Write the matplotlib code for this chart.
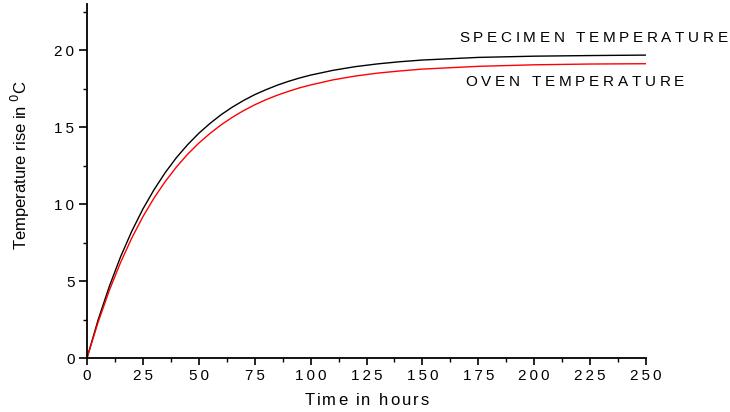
import matplotlib
matplotlib.use('Agg')
import matplotlib.pyplot as plt
from matplotlib.ticker import MultipleLocator
import matplotlib.transforms as mtransforms

# time (hours) and temperature rise
hours = [0, 5, 10, 15, 20, 25, 30, 35, 40, 45, 50, 55, 60, 65, 70, 75, 80, 85,
         90, 95, 100, 110, 120, 130, 140, 150, 175, 200, 225, 250]
specimen = [0, 2.49, 4.66, 6.57, 8.23, 9.68, 10.94, 12.05, 13.02, 13.86, 14.6,
            15.24, 15.81, 16.3, 16.73, 17.11, 17.43, 17.72, 17.97, 18.19, 18.38,
            18.69, 18.93, 19.11, 19.25, 19.36, 19.53, 19.61, 19.65, 19.68]
oven = [0, 2.34, 4.4, 6.2, 7.79, 9.18, 10.4, 11.47, 12.41, 13.24, 13.96,
        14.59, 15.15, 15.64, 16.07, 16.45, 16.78, 17.07, 17.32, 17.55, 17.74,
        18.07, 18.32, 18.51, 18.65, 18.77, 18.95, 19.05, 19.1, 19.12]

x_ticks = [0, 25, 50, 75, 100, 125, 150, 175, 200, 225, 250]
y_ticks = [0, 5, 10, 15, 20]

FONT = ['Liberation Sans', 'DejaVu Sans']


def spaced_text(ax, x, y, s, size, spacing, transform=None, ha='left'):
    # draw text letter by letter with extra tracking (in pixels)
    fig = ax.figure
    renderer = fig.canvas.get_renderer()
    base = ax.transData if transform is None else transform
    widths = []
    for ch in s:
        if ch == ' ':
            widths.append(size * fig.dpi / 72 * 0.28)
        else:
            t = fig.text(0, 0, ch, fontsize=size, family=FONT)
            widths.append(t.get_window_extent(renderer).width)
            t.remove()
    total = sum(widths) + spacing * (len(s) - 1)
    off = -total / 2 if ha == 'center' else 0
    for ch, w in zip(s, widths):
        tr = mtransforms.offset_copy(base, fig=fig, x=off * 72 / fig.dpi, y=0, units='points')
        ax.text(x, y, ch, fontsize=size, family=FONT, va='center', ha='left',
                transform=tr, clip_on=False)
        off += w + spacing


fig = plt.figure(figsize=(7.3, 4.12), dpi=100)
ax = fig.add_axes([87 / 730, 54 / 412, (646 - 87) / 730, (358 - 4) / 412])

ax.plot(hours, specimen, color='black', lw=1.0)
ax.plot(hours, oven, color='#ff0000', lw=1.0)

ax.set_xlim(0, 250)
ax.set_ylim(0, 23)
ax.spines['top'].set_visible(False)
ax.spines['right'].set_visible(False)
for sp in ['left', 'bottom']:
    ax.spines[sp].set_linewidth(1.3)

ax.set_xticks(x_ticks)
ax.set_xticklabels(['\u2009'.join(str(v)) for v in x_ticks])
ax.set_yticks(y_ticks)
ax.set_yticklabels(['\u2009'.join(str(v)) for v in y_ticks])
ax.xaxis.set_minor_locator(MultipleLocator(12.5))
ax.yaxis.set_minor_locator(MultipleLocator(2.5))
ax.tick_params(which='major', direction='out', length=5, width=1.2, labelsize=11, pad=3)
ax.tick_params(which='minor', direction='out', length=3, width=1.0)
ax.tick_params(axis='y', which='major', length=6)
for lab in ax.get_xticklabels() + ax.get_yticklabels():
    lab.set_family(FONT)

ax.text((20 - 87) / 559, 0.545, r'Temperature rise in $^{0}$C', family=FONT, fontsize=12,
        rotation=90, ha='center', va='center', transform=ax.transAxes)
spaced_text(ax, 0.5, -0.119, 'Time in hours', 12, 1.9, transform=ax.transAxes, ha='center')

spaced_text(ax, 166.5, 20.8, 'SPECIMEN TEMPERATURE', 11, 3.65)
spaced_text(ax, 169.3, 17.9, 'OVEN TEMPERATURE', 11, 3.75)

fig.savefig('out.png', dpi=100)
